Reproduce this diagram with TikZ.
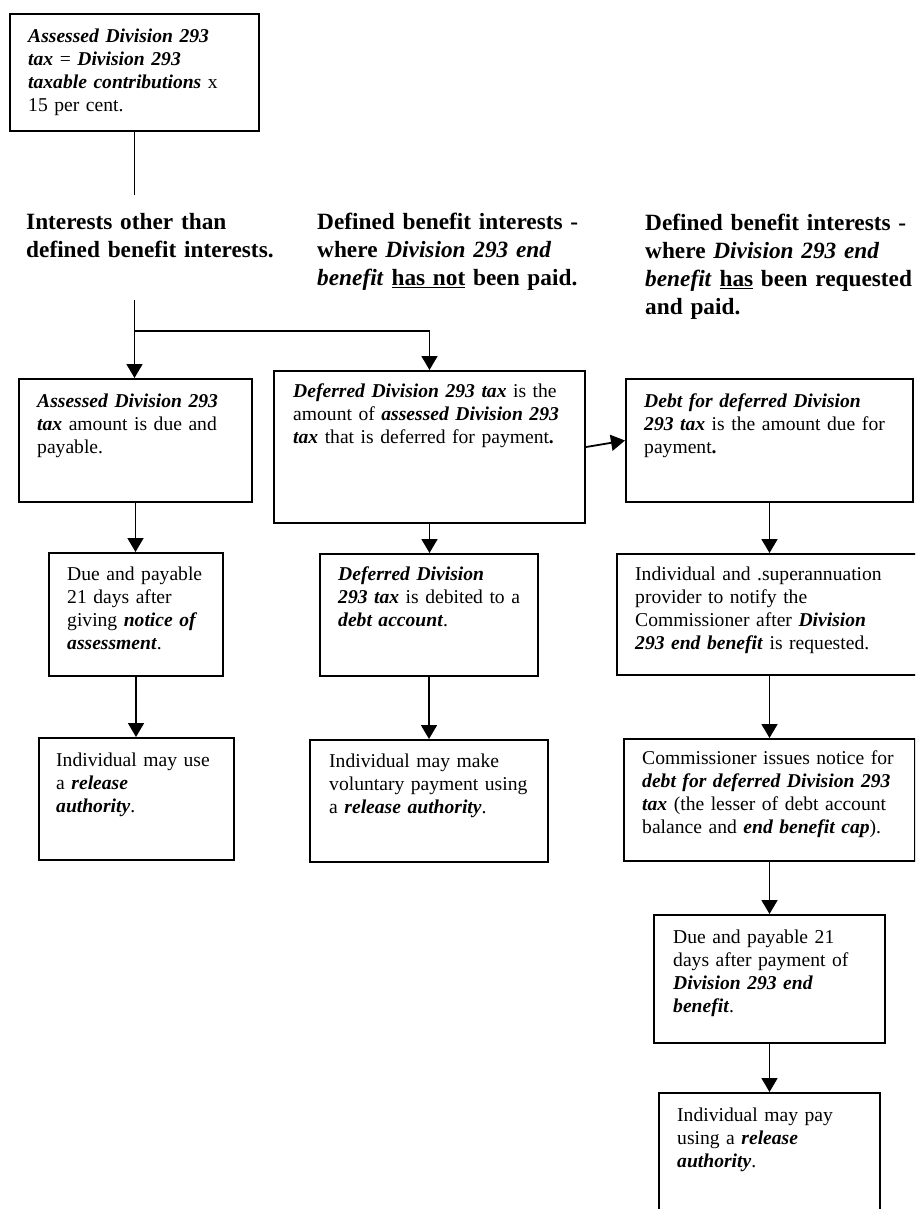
\documentclass[tikz,border=0pt]{standalone}
\usepackage{fontspec}
\setmainfont{Liberation Serif}
\usetikzlibrary{arrows.meta}
\newcommand{\bitx}[1]{\textbf{\textit{#1}}}
\tikzset{
  box/.style={draw, line width=2pt, inner sep=0pt, anchor=north west, fill=none},
  txt/.style={anchor=north west, inner sep=0pt, text width=320pt, align=left,
              font=\fontsize{19.6}{23}\selectfont},
  head/.style={anchor=north west, inner sep=0pt, text width=320pt, align=left,
              font=\fontsize{23.3}{28}\selectfont\bfseries},
  conn/.style={line width=1.8pt},
  arr/.style={line width=1.8pt, -{Triangle[length=14pt,width=16pt]}}
}
\begin{document}
\begin{tikzpicture}[x=1pt,y=-1pt]
\useasboundingbox (0,0) rectangle (915,1209);
\clip (0,0) rectangle (915,1209);
% boxes
\node[box, minimum width=249pt, minimum height=117pt] (T) at (9,13) {};
\node[box, minimum width=233pt, minimum height=123pt] (A1) at (18,378) {};
\node[box, minimum width=311pt, minimum height=152pt] (B1) at (273,370) {};
\node[box, minimum width=287pt, minimum height=123pt] (C1) at (625,378) {};
\node[box, minimum width=174pt, minimum height=123pt] (A2) at (48,552) {};
\node[box, minimum width=218pt, minimum height=122pt] (B2) at (319,553) {};
\node[box, minimum width=305pt, minimum height=121pt] (C2) at (616,553) {};
\node[box, minimum width=195pt, minimum height=122pt] (A3) at (38,737) {};
\node[box, minimum width=238pt, minimum height=122pt] (B3) at (309,739) {};
\node[box, minimum width=291pt, minimum height=122pt] (C3) at (623,738) {};
\node[box, minimum width=231pt, minimum height=128pt] (C4) at (653,914) {};
\node[box, minimum width=221pt, minimum height=130pt] (C5) at (658,1092) {};
% texts
\node[txt] (tT) at (28,25.9) {\strut\bitx{Assessed Division 293}\\ \bitx{tax} = \bitx{Division 293}\\ \bitx{taxable contributions} x\\ 15 per cent.};
\node[txt] (tA1) at (37,390.9) {\strut\bitx{Assessed Division 293}\\ \bitx{tax} amount is due and\\ payable.};
\node[txt] (tB1) at (293,380.9) {\strut\bitx{Deferred Division 293 tax} is the\\ amount of \bitx{assessed Division 293}\\ \bitx{tax} that is deferred for payment\textbf{.}};
\node[txt] (tC1) at (644,390.9) {\strut\bitx{Debt for deferred Division}\\ \bitx{293 tax} is the amount due for\\ payment\textbf{.}};
\node[txt] (tA2) at (67,563.9) {\strut Due and payable\\ 21 days after\\ giving \bitx{notice of}\\ \bitx{assessment}.};
\node[txt] (tB2) at (338,563.9) {\strut\bitx{Deferred Division}\\ \bitx{293 tax} is debited to a\\ \bitx{debt account}.};
\node[txt] (tC2) at (635,563.9) {\strut Individual and .superannuation\\ provider to notify the\\ Commissioner after \bitx{Division}\\ \bitx{293 end benefit} is requested.};
\node[txt] (tA3) at (56,749.9) {\strut Individual may use\\ a \bitx{release}\\ \bitx{authority}.};
\node[txt] (tB3) at (329,750.9) {\strut Individual may make\\ voluntary payment using\\ a \bitx{release authority}.};
\node[txt] (tC3) at (642,747.9) {\strut Commissioner issues notice for\\ \bitx{debt for deferred Division 293}\\ \bitx{tax} (the lesser of debt account\\ balance and \bitx{end benefit cap}).};
\node[txt] (tC4) at (673,926.9) {\strut Due and payable 21\\ days after payment of\\ \bitx{Division 293 end}\\ \bitx{benefit}.};
\node[txt] (tC5) at (677,1104.9) {\strut Individual may pay\\ using a \bitx{release}\\ \bitx{authority}.};
% headings
\node[head] (H1) at (26,209.4) {\strut Interests other than\\ defined benefit interests.};
\node[head] (H2) at (317,209.4) {\strut Defined benefit interests -\\ where \textit{Division 293 end}\\ \textit{benefit} \underline{has not} been paid.};
\node[head] (H3) at (645,210.4) {\strut Defined benefit interests -\\ where \textit{Division 293 end}\\ \textit{benefit} \underline{has} been requested\\ and paid.};
% connectors
\coordinate (j1) at (T.south |- 0,195);
\coordinate (h1b) at (134.5,300);
\coordinate (br) at (134.5,331);
\draw[conn] (T.south) -- (j1);
\draw[conn] (h1b) -- (br);
\draw[arr] (br) -- (br |- A1.north);
\draw[arr] (br) -| (B1.north);
\draw[arr] (B1.east) -- (C1.west);
\draw[arr] (A1.south) -- (A1.south |- A2.north);
\draw[arr] (A2.south) -- (A2.south |- A3.north);
\draw[arr] (B1.south) -- (B1.south |- B2.north);
\draw[arr] (B2.south) -- (B2.south |- B3.north);
\draw[arr] (C1.south) -- (C1.south |- C2.north);
\draw[arr] (C2.south) -- (C2.south |- C3.north);
\draw[arr] (C3.south) -- (C3.south |- C4.north);
\draw[arr] (C4.south) -- (C4.south |- C5.north);
\end{tikzpicture}
\end{document}
